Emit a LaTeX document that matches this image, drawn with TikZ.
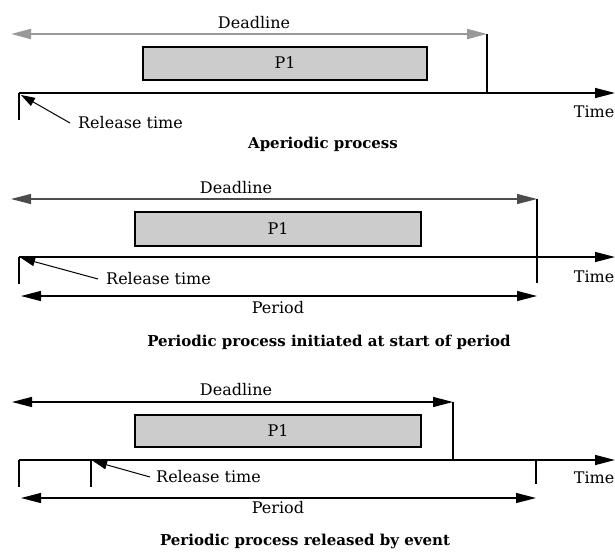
\documentclass[tikz,border=0pt]{standalone}
\usepackage{fontspec}
\setmainfont{DejaVu Serif}
\usepackage{tikz}
\usetikzlibrary{arrows.meta, positioning}

\tikzset{
    lbl/.style={font=\fontsize{16}{18}\selectfont, inner sep=0pt},
    caption/.style={font=\fontsize{15}{17}\selectfont\bfseries, inner sep=0pt},
    procbox/.style={draw=black, fill=black!20, line width=1.2pt},
    axisline/.style={line width=1.4pt, -{Triangle[length=20pt, width=10pt]}},
    spanline/.style={line width=1.2pt, {Triangle[length=20pt, width=10pt]}-{Triangle[length=20pt, width=10pt]}},
    tickline/.style={line width=1.4pt},
    relarrow/.style={line width=1pt, -{Triangle[length=14pt, width=9pt]}}
}

\begin{document}
\begin{tikzpicture}[x=1pt, y=-1pt]
    \useasboundingbox (0,0) rectangle (615,552);

    % ---------------- Aperiodic process ----------------
    \coordinate (dla) at (11,34);
    \coordinate (dlb) at (487,34);
    \coordinate (axa) at (19,93);
    \coordinate (axb) at (615,93);
    \coordinate (dlc) at (487,93);
    \coordinate (tka) at (19,120);
    \coordinate (rela) at (70,123);
    \coordinate (relb) at (21,95);

    \draw[procbox] (143,47) rectangle (427,80);
    \node[lbl] (pa) at (285,63) {P1};
    \node[lbl] (dlta) at (254,23) {Deadline};
    \draw[spanline, draw=black!40, line width=2pt] (dla) -- (dlb);
    \draw[tickline] (dlb) -- (dlc);
    \draw[axisline] (axa) -- (axb);
    \draw[tickline] (axa) -- (tka);
    \node[lbl, anchor=west] (rta) at (78,123) {Release time};
    \draw[relarrow] (rela) -- (relb);
    \node[lbl, anchor=east] (tma) at (614.5,112) {Time};
    \node[caption] (capa) at (323,144) {Aperiodic process};

    % ---------------- Periodic, start of period ----------------
    \coordinate (dma) at (11,199);
    \coordinate (dmb) at (537,199);
    \coordinate (dmc) at (537,283);
    \coordinate (bxa) at (19,257);
    \coordinate (bxb) at (615,257);
    \coordinate (tkb) at (19,284);
    \coordinate (pma) at (21,296);
    \coordinate (pmb) at (537,296);
    \coordinate (relc) at (98,279);
    \coordinate (reld) at (21,258);

    \draw[procbox] (135,212) rectangle (421,246);
    \node[lbl] (pb) at (278,229) {P1};
    \node[lbl] (dltb) at (236,188) {Deadline};
    \draw[spanline, draw=black!70] (dma) -- (dmb);
    \draw[tickline] (dmb) -- (dmc);
    \draw[axisline] (bxa) -- (bxb);
    \draw[tickline] (bxa) -- (tkb);
    \node[lbl, anchor=west] (rtb) at (106,279) {Release time};
    \draw[relarrow] (relc) -- (reld);
    \draw[spanline] (pma) -- (pmb);
    \node[lbl] (prb) at (278,308) {Period};
    \node[lbl, anchor=east] (tmb) at (614.5,277) {Time};
    \node[caption] (capb) at (329,342) {Periodic process initiated at start of period};

    % ---------------- Periodic, released by event ----------------
    \coordinate (dna) at (12,402);
    \coordinate (dnb) at (453,402);
    \coordinate (dnc) at (453,460);
    \coordinate (cxa) at (19,460);
    \coordinate (cxb) at (615,460);
    \coordinate (tkc) at (19,487);
    \coordinate (tkd) at (91,460);
    \coordinate (tke) at (91,487);
    \coordinate (tkf) at (536,460);
    \coordinate (tkg) at (536,484);
    \coordinate (pna) at (21,498);
    \coordinate (pnb) at (536,498);
    \coordinate (rele) at (150,477);
    \coordinate (relf) at (93,461);

    \draw[procbox] (135,415) rectangle (421,447);
    \node[lbl] (pc) at (278,431) {P1};
    \node[lbl] (dltc) at (236,390) {Deadline};
    \draw[spanline] (dna) -- (dnb);
    \draw[tickline] (dnb) -- (dnc);
    \draw[axisline] (cxa) -- (cxb);
    \draw[tickline] (cxa) -- (tkc);
    \draw[tickline] (tkd) -- (tke);
    \draw[tickline] (tkf) -- (tkg);
    \node[lbl, anchor=west] (rtc) at (156,477) {Release time};
    \draw[relarrow] (rele) -- (relf);
    \draw[spanline] (pna) -- (pnb);
    \node[lbl] (prc) at (278,508) {Period};
    \node[lbl, anchor=east] (tmc) at (614.5,478) {Time};
    \node[caption] (capc) at (305,541) {Periodic process released by event};
\end{tikzpicture}
\end{document}
